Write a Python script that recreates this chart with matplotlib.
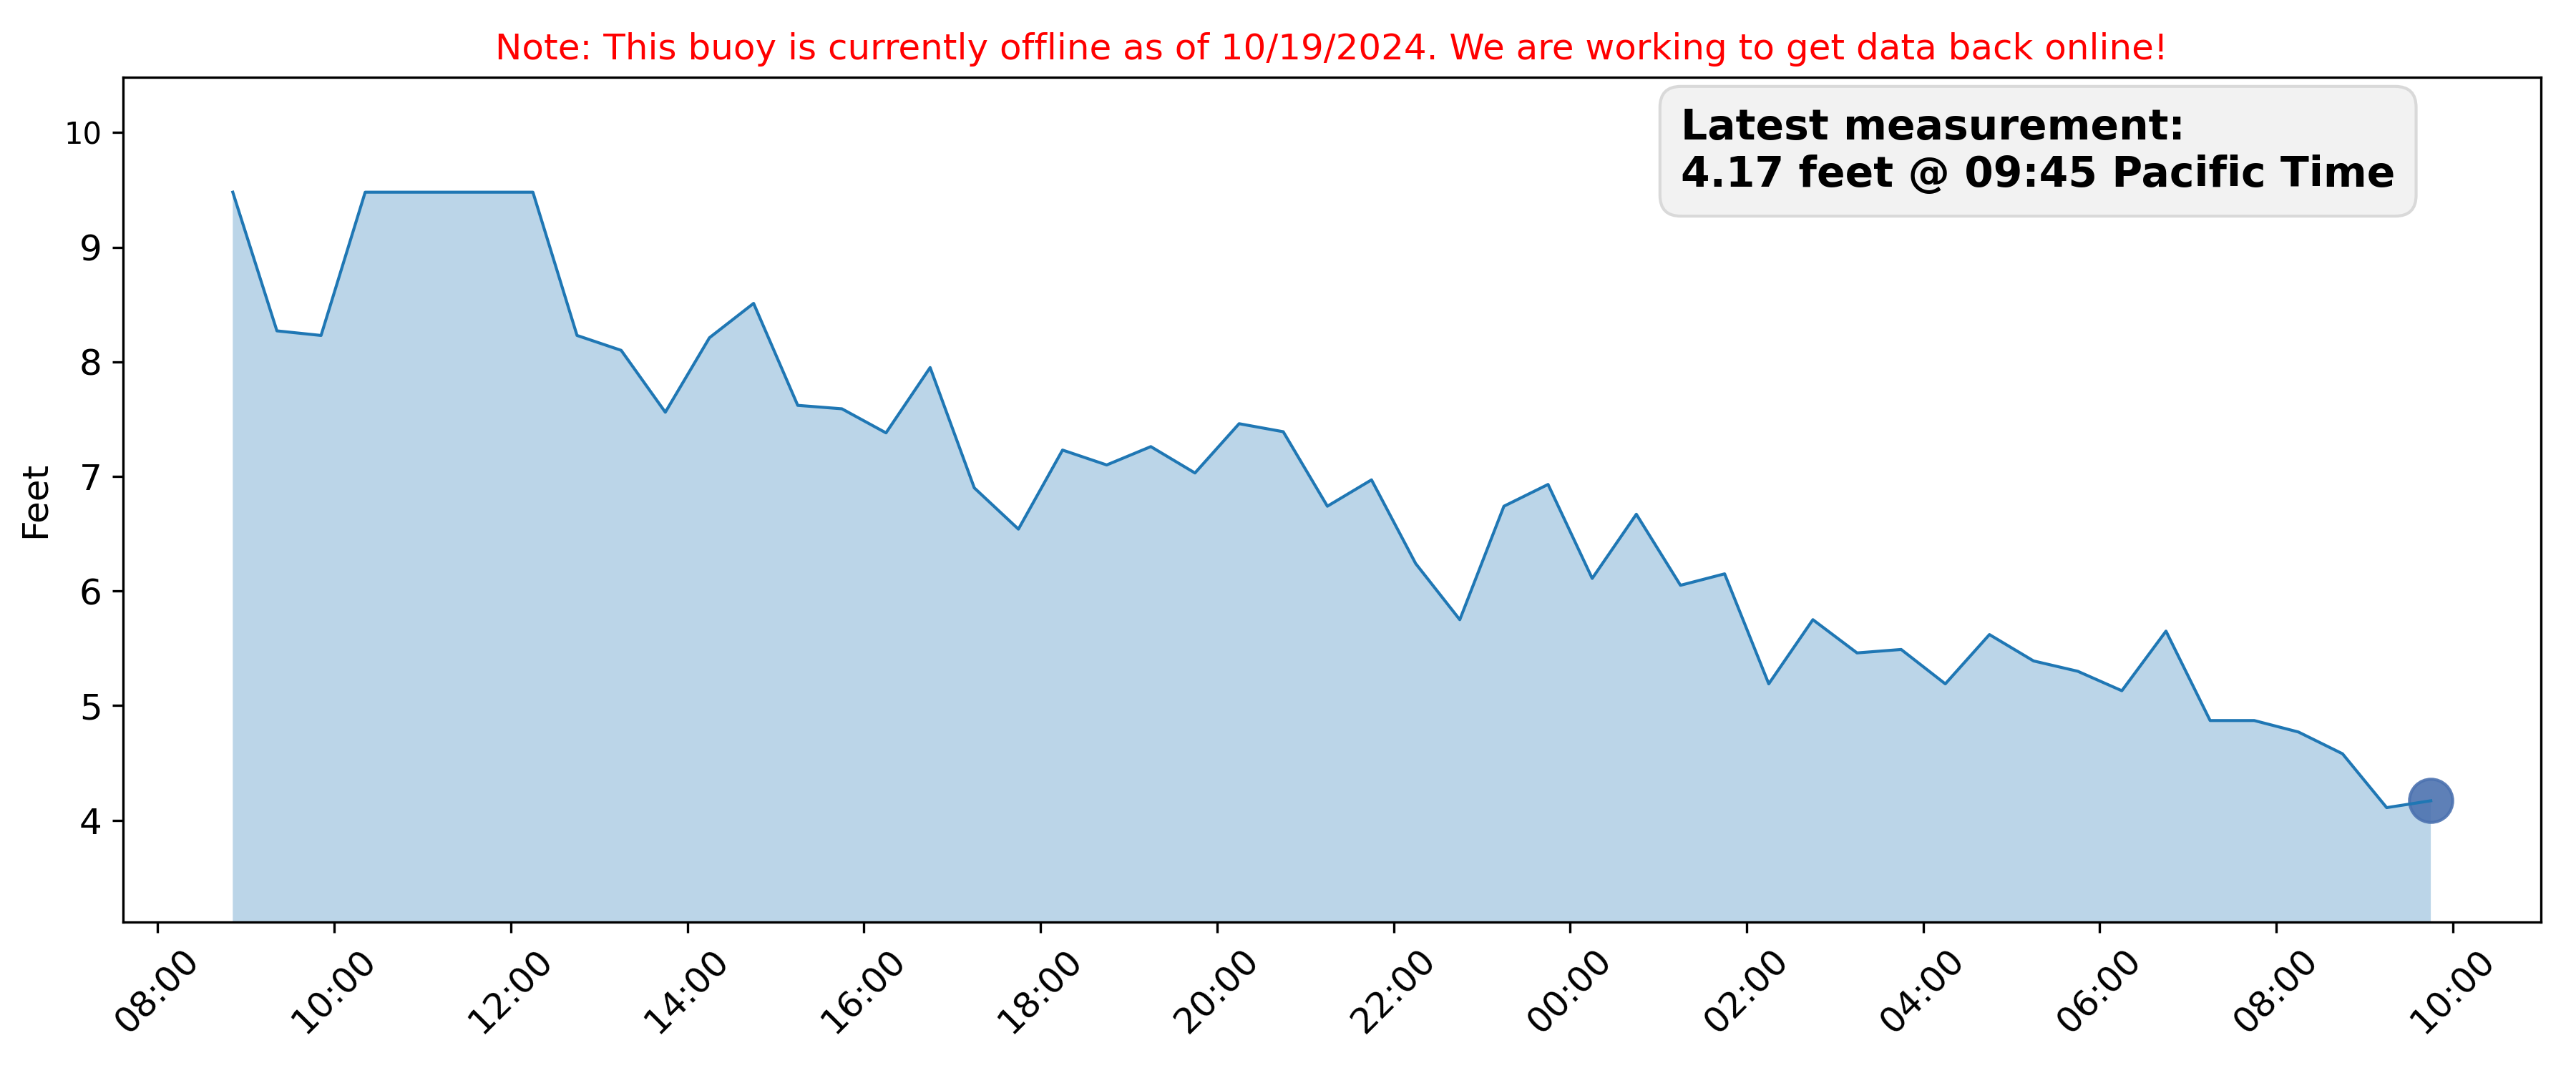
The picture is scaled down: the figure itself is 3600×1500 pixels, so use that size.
import matplotlib
matplotlib.use("Agg")
import matplotlib.pyplot as plt
import matplotlib.dates as mdates
import pandas as pd

times = [
    "2024-10-18 08:51", "2024-10-18 09:21", "2024-10-18 09:51", "2024-10-18 10:21",
    "2024-10-18 12:15", "2024-10-18 12:45", "2024-10-18 13:15", "2024-10-18 13:45",
    "2024-10-18 14:15", "2024-10-18 14:45", "2024-10-18 15:15", "2024-10-18 15:45",
    "2024-10-18 16:15", "2024-10-18 16:45", "2024-10-18 17:15", "2024-10-18 17:45",
    "2024-10-18 18:15", "2024-10-18 18:45", "2024-10-18 19:15", "2024-10-18 19:45",
    "2024-10-18 20:15", "2024-10-18 20:45", "2024-10-18 21:15", "2024-10-18 21:45",
    "2024-10-18 22:15", "2024-10-18 22:45", "2024-10-18 23:15", "2024-10-18 23:45",
    "2024-10-19 00:15", "2024-10-19 00:45", "2024-10-19 01:15", "2024-10-19 01:45",
    "2024-10-19 02:15", "2024-10-19 02:45", "2024-10-19 03:15", "2024-10-19 03:45",
    "2024-10-19 04:15", "2024-10-19 04:45", "2024-10-19 05:15", "2024-10-19 05:45",
    "2024-10-19 06:15", "2024-10-19 06:45", "2024-10-19 07:15", "2024-10-19 07:45",
    "2024-10-19 08:15", "2024-10-19 08:45", "2024-10-19 09:15", "2024-10-19 09:45",
]
feet = [
    9.48, 8.27, 8.23, 9.48, 9.48, 8.23, 8.10, 7.56, 8.21, 8.51, 7.62, 7.59,
    7.38, 7.95, 6.90, 6.54, 7.23, 7.10, 7.26, 7.03, 7.46, 7.39, 6.74, 6.97,
    6.24, 5.75, 6.74, 6.93, 6.11, 6.67, 6.05, 6.15, 5.19, 5.75, 5.46, 5.49,
    5.19, 5.62, 5.39, 5.30, 5.13, 5.65, 4.87, 4.87, 4.77, 4.58, 4.11, 4.17,
]
yticks = [4, 5, 6, 7, 8, 9, 10]

title_text = "Note: This buoy is currently offline as of 10/19/2024. We are working to get data back online!"
box_text = "Latest measurement:\n4.17 feet @ 09:45 Pacific Time"

t = pd.to_datetime(times)

fig, ax = plt.subplots(figsize=(12, 5), dpi=300)
fig.subplots_adjust(left=0.0477, right=0.9863, bottom=0.1405, top=0.9277)

ax.fill_between(t, feet, color="#1f77b4", alpha=0.3, linewidth=0, zorder=1)
ax.scatter(t[-1:], feet[-1:], s=210, color="#4C72B0", alpha=0.9, zorder=3)
ax.plot(t, feet, color="#1f77b4", linewidth=1, zorder=4)

ax.set_ylim(min(feet) - 1, max(feet) + 1)
ax.set_yticks(yticks)
for lbl, v in zip(ax.get_yticklabels(), yticks):
    lbl.set_fontsize(10 if v == 10 else 12)

ax.xaxis.set_major_locator(mdates.HourLocator(interval=2))
ax.xaxis.set_major_formatter(mdates.DateFormatter("%H:%M"))
ax.tick_params(axis="x", labelsize=12, labelrotation=45)

ax.set_ylabel("Feet", fontsize=12)
ax.set_title(title_text, color="red", fontsize=12)

fig.text(0.6525, 0.900, box_text, fontsize=14, fontweight="bold",
         ha="left", va="top",
         bbox=dict(boxstyle="round,pad=0.5", facecolor="#f2f2f2",
                   edgecolor="#d9d9d9", linewidth=1))

fig.savefig("out.png", dpi=300)
